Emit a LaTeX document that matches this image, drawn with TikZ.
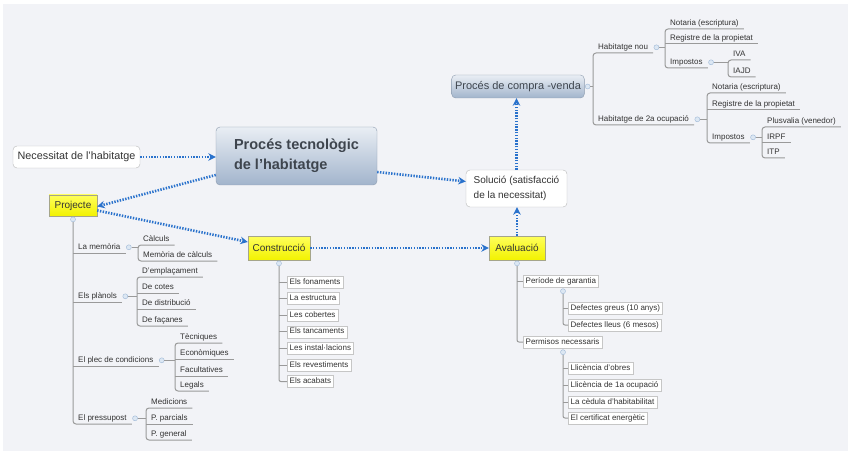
\documentclass[tikz,border=0pt]{standalone}
\usepackage{fontspec}
\setmainfont{Liberation Sans}
\usepackage{tikz}
\usetikzlibrary{positioning,arrows.meta}
\definecolor{panel}{HTML}{F2F3F7}
\definecolor{flowblue}{HTML}{2A72CC}
\definecolor{treeline}{HTML}{9A9A9A}
\definecolor{topicedge}{HTML}{8C9BAE}
\definecolor{topictop}{HTML}{E9EEF4}
\definecolor{topicbot}{HTML}{A2B4CC}
\definecolor{topictext}{HTML}{3E454E}
\definecolor{markedge}{HTML}{9DB7D6}
\definecolor{markfill}{HTML}{DCE7F3}
\definecolor{stagetop}{HTML}{FFFF5C}
\definecolor{stagebot}{HTML}{F2F200}
\definecolor{stageedge}{HTML}{A5A58A}
\definecolor{subtext}{HTML}{333333}
\tikzset{
  topic/.style={rectangle, draw=topicedge, top color=topictop, bottom color=topicbot,
                rounded corners=4pt, text=topictext, align=left},
  note/.style={rectangle, draw=gray!55, fill=white, rounded corners=4pt, align=left, text=subtext},
  stage/.style={rectangle, draw=stageedge, top color=stagetop, bottom color=stagebot,
                font=\fontsize{10}{12}\selectfont, text=subtext, inner xsep=3pt},
  leaf/.style={anchor=south west, inner xsep=5pt, inner ysep=1.5pt, text height=6pt, text depth=2pt,
               font=\fontsize{8}{9}\selectfont, text=subtext},
  part/.style={rectangle, draw=gray!45, fill=white, anchor=west, inner xsep=2.5pt, inner ysep=2pt,
               text height=6pt, text depth=2pt, font=\fontsize{8}{9}\selectfont, text=subtext},
  knob/.style={circle, draw=markedge, fill=markfill, minimum size=5pt, inner sep=0pt},
  tree/.style={draw=treeline, line width=1pt},
  flow/.style={draw=flowblue, line width=2.6pt, dash pattern=on 1.4pt off 1.4pt,
               -{Stealth[length=7.5pt, width=7.5pt, flowblue]}},
}

\begin{document}
\begin{tikzpicture}[x=1pt, y=-1pt]
    %% --- canvas ---
    \fill[white] (0,0) rectangle (848,457);
    \fill[panel] (3,4) rectangle (848,451);
    \useasboundingbox (0,0) rectangle (848,457);

    %% --- main chain ---
    \node[topic, minimum width=161pt, minimum height=58pt, font=\bfseries\fontsize{14.5}{20}\selectfont] (main) at (296.5,156) {Procés tecnològic\\de l'habitatge};
    \node[note, minimum width=127pt, minimum height=22pt, font=\fontsize{10.8}{13}\selectfont] (need) at (76.5,157) {Necessitat de l'habitatge};
    \node[stage, minimum width=48pt, minimum height=21pt] (proj) at (73,205.5) {Projecte};
    \node[stage, minimum width=62pt, minimum height=24pt] (cons) at (279,248) {Construcció};
    \node[stage, minimum width=56pt, minimum height=24pt] (aval) at (517,248) {Avaluació};
    \node[note, minimum width=101pt, minimum height=37pt, font=\fontsize{10}{15}\selectfont] (sol) at (516.5,188.5) {Solució (satisfacció\\de la necessitat)};
    \node[topic, minimum width=132pt, minimum height=23pt, font=\fontsize{11}{13}\selectfont] (cv) at (518,86.5) {Procés de compra -venda};
    \draw[flow] (need.east) -- (need.east -| main.west);
    \draw[flow] ([yshift=-19pt]main.west) -- ([yshift=-1pt]proj.east);
    \draw[flow] ([yshift=-5pt]proj.east) -- ([yshift=6pt]cons.west);
    \draw[flow] (cons) -- (aval);
    \draw[flow] (aval.north) -- (aval.north |- sol.south);
    \draw[flow] ([yshift=-16pt]main.east) -- ([yshift=7pt]sol.west);
    \draw[flow] (sol.north) -- (sol.north |- cv.south);

    %% --- Projecte ---
    \node[knob, below=0.5pt of proj] (projk) {};
    \node[leaf] (mem) at (73,253) {La memòria};
    \node[leaf] (pla) at (73,302) {Els plànols};
    \node[leaf] (plec) at (73,366) {El plec de condicions};
    \node[leaf] (pres) at (73,424) {El pressupost};
    \draw[tree, rounded corners=3pt] (projk) -- (pres.south west) -- (pres.south east);
    \draw[tree] (mem.south west) -- (mem.south east);
    \draw[tree] (pla.south west) -- (pla.south east);
    \draw[tree] (plec.south west) -- (plec.south east);

    \node[knob, right=0.5pt of mem] (memk) {};
    \node[leaf] (cal) at (138,245) {Càlculs};
    \node[leaf] (memc) at (138,261) {Memòria de càlculs};
    \draw[tree] (memk) -- (memk -| cal.south west);
    \draw[tree, rounded corners=3pt] (cal.south east) -- (cal.south west) -- (memc.south west) -- (memc.south east);

    \node[knob, right=0.5pt of pla] (plak) {};
    \node[leaf] (emp) at (137,277) {D'emplaçament};
    \node[leaf] (cot) at (137,293) {De cotes};
    \node[leaf] (dis) at (137,309) {De distribució};
    \node[leaf] (fac) at (137,326) {De façanes};
    \draw[tree] (plak) -- (plak -| emp.south west);
    \draw[tree, rounded corners=3pt] (emp.south east) -- (emp.south west) -- (fac.south west) -- (fac.south east);
    \draw[tree] (cot.south west) -- (cot.south east);
    \draw[tree] (dis.south west) -- (dis.south east);

    \node[knob, right=0.5pt of plec] (pleck) {};
    \node[leaf] (tec) at (175,343) {Tècniques};
    \node[leaf] (eco) at (175,359) {Econòmiques};
    \node[leaf] (fcl) at (175,376) {Facultatives};
    \node[leaf] (leg) at (175,391) {Legals};
    \draw[tree] (pleck) -- (pleck -| tec.south west);
    \draw[tree, rounded corners=3pt] (tec.south east) -- (tec.south west) -- (leg.south west) -- (leg.south east);
    \draw[tree] (eco.south west) -- (eco.south east);
    \draw[tree] (fcl.south west) -- (fcl.south east);

    \node[knob, right=0.5pt of pres] (presk) {};
    \node[leaf] (med) at (146,408) {Medicions};
    \node[leaf] (par) at (146,424) {P. parcials};
    \node[leaf] (gen) at (146,440) {P. general};
    \draw[tree] (presk) -- (presk -| med.south west);
    \draw[tree, rounded corners=3pt] (med.south east) -- (med.south west) -- (gen.south west) -- (gen.south east);
    \draw[tree] (par.south west) -- (par.south east);

    %% --- Construcció ---
    \node[knob, below=0.5pt of cons] (consk) {};
    \node[part] (f1) at (287,282) {Els fonaments};
    \node[part, below=4.2pt of f1.south west, anchor=north west] (f2) {La estructura};
    \node[part, below=4.2pt of f2.south west, anchor=north west] (f3) {Les cobertes};
    \node[part, below=4.2pt of f3.south west, anchor=north west] (f4) {Els tancaments};
    \node[part, below=4.2pt of f4.south west, anchor=north west] (f5) {Les instal·lacions};
    \node[part, below=4.2pt of f5.south west, anchor=north west] (f6) {Els revestiments};
    \node[part, below=4.2pt of f6.south west, anchor=north west] (f7) {Els acabats};
    \draw[tree, rounded corners=2pt] (consk) |- (f7.west);
    \draw[tree] (consk |- f1.west) -- (f1.west);
    \draw[tree] (consk |- f2.west) -- (f2.west);
    \draw[tree] (consk |- f3.west) -- (f3.west);
    \draw[tree] (consk |- f4.west) -- (f4.west);
    \draw[tree] (consk |- f5.west) -- (f5.west);
    \draw[tree] (consk |- f6.west) -- (f6.west);

    %% --- Avaluació ---
    \node[knob, below=0.5pt of aval] (avalk) {};
    \node[part] (gar) at (523,281) {Període de garantia};
    \node[part] (perm) at (523,342) {Permisos necessaris};
    \draw[tree, rounded corners=2pt] (avalk) |- (perm.west);
    \draw[tree] (avalk |- gar.west) -- (gar.west);

    \node[knob] (gark) at ([xshift=40pt, yshift=-4pt]gar.south west) {};
    \node[part] (dg) at (568,308) {Defectes greus (10 anys)};
    \node[part] (dl) at (568,325) {Defectes lleus (6 mesos)};
    \draw[tree, rounded corners=2pt] (gark) |- (dl.west);
    \draw[tree] (gark |- dg.west) -- (dg.west);

    \node[knob] (permk) at ([xshift=40pt, yshift=-4pt]perm.south west) {};
    \node[part] (obr) at (568,368) {Llicència d'obres};
    \node[part] (ocu) at (568,385) {Llicència de 1a ocupació};
    \node[part] (ced) at (568,402) {La cèdula d'habitabilitat};
    \node[part] (cert) at (568,418) {El certificat energètic};
    \draw[tree, rounded corners=2pt] (permk) |- (cert.west);
    \draw[tree] (permk |- obr.west) -- (obr.west);
    \draw[tree] (permk |- ocu.west) -- (ocu.west);
    \draw[tree] (permk |- ced.west) -- (ced.west);

    %% --- Procés de compra-venda ---
    \node[knob, right=0.5pt of cv] (cvk) {};
    \node[leaf] (nou) at (593,53) {Habitatge nou};
    \node[leaf] (seg) at (593,125) {Habitatge de 2a ocupació};
    \draw[tree] (cvk) -- (cvk -| nou.south west);
    \draw[tree, rounded corners=3pt] (nou.south east) -- (nou.south west) -- (seg.south west) -- (seg.south east);

    \node[knob, right=0.5pt of nou] (nouk) {};
    \node[leaf] (not1) at (665,29) {Notaria (escriptura)};
    \node[leaf] (reg1) at (665,44) {Registre de la propietat};
    \node[leaf] (imp1) at (665,68) {Impostos};
    \draw[tree] (nouk) -- (nouk -| not1.south west);
    \draw[tree, rounded corners=3pt] (not1.south east) -- (not1.south west) -- (imp1.south west) -- (imp1.south east);
    \draw[tree] (reg1.south west) -- (reg1.south east);

    \node[knob, right=0.5pt of imp1] (imp1k) {};
    \node[leaf] (iva) at (728,60) {IVA};
    \node[leaf] (iajd) at (728,77) {IAJD};
    \draw[tree] (imp1k) -- (imp1k -| iva.south west);
    \draw[tree, rounded corners=3pt] (iva.south east) -- (iva.south west) -- (iajd.south west) -- (iajd.south east);

    \node[knob, right=0.5pt of seg] (segk) {};
    \node[leaf] (not2) at (707,93) {Notaria (escriptura)};
    \node[leaf] (reg2) at (707,110) {Registre de la propietat};
    \node[leaf] (imp2) at (707,143) {Impostos};
    \draw[tree] (segk) -- (segk -| not2.south west);
    \draw[tree, rounded corners=3pt] (not2.south east) -- (not2.south west) -- (imp2.south west) -- (imp2.south east);
    \draw[tree] (reg2.south west) -- (reg2.south east);

    \node[knob, right=0.5pt of imp2] (imp2k) {};
    \node[leaf] (plu) at (762,127) {Plusvalia (venedor)};
    \node[leaf] (irpf) at (762,143) {IRPF};
    \node[leaf] (itp) at (762,158) {ITP};
    \draw[tree] (imp2k) -- (imp2k -| plu.south west);
    \draw[tree, rounded corners=3pt] (plu.south east) -- (plu.south west) -- (itp.south west) -- (itp.south east);
    \draw[tree] (irpf.south west) -- (irpf.south east);
  \end{tikzpicture}
\end{document}
